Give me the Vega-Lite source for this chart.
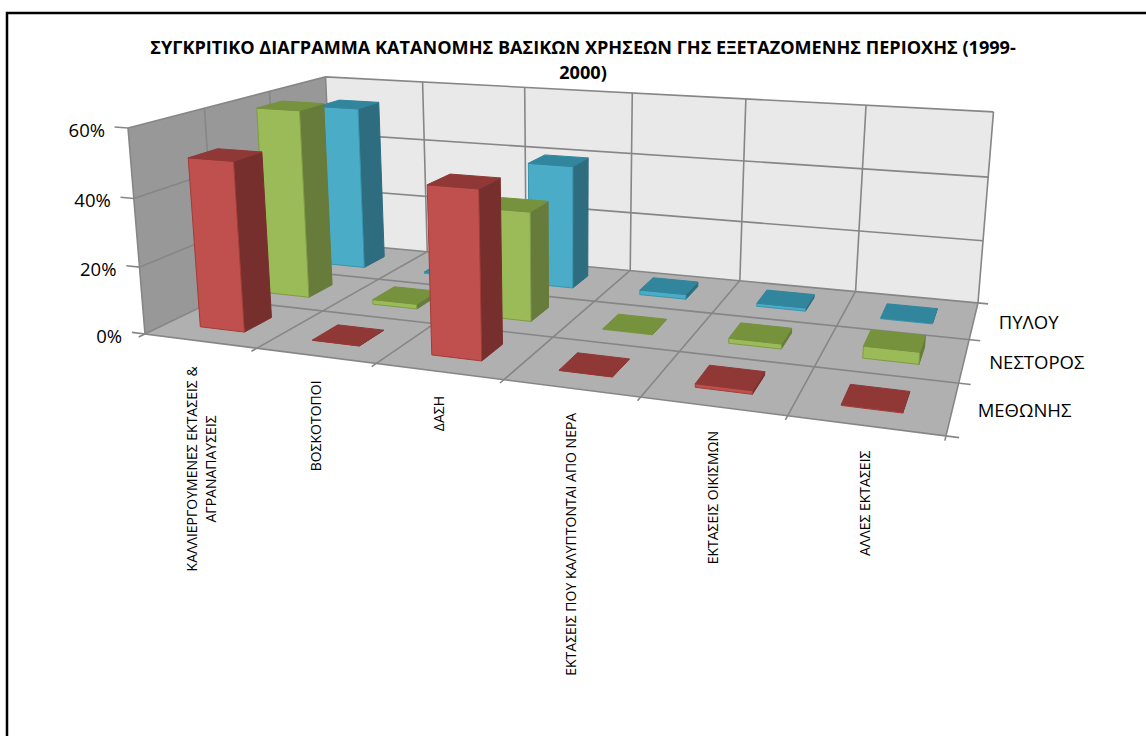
{
"$schema":"https://vega.github.io/schema/vega-lite/v6.json",
"width":1150,"height":730,
"autosize":{"type":"none"},
"padding":{"left":7,"top":13,"right":-11,"bottom":-7},
"background":"white",
"config":{"view":{"stroke":"#000000","strokeWidth":2.5,"fill":"white"}},
"title":{"text":["ΣΥΓΚΡΙΤΙΚΟ ΔΙΑΓΡΑΜΜΑ ΚΑΤΑΝΟΜΗΣ ΒΑΣΙΚΩΝ ΧΡΗΣΕΩΝ ΓΗΣ ΕΞΕΤΑΖΟΜΕΝΗΣ ΠΕΡΙΟΧΗΣ (1999-","2000)"],"font":"Open Sans","fontSize":18.1,"fontWeight":"bold","color":"#000000","anchor":"middle","dx":1,"offset":-70,"lineHeight":25,"baseline":"top"},
"resolve":{"scale":{"fill":"independent","stroke":"independent"}},
"datasets":{
"bars":[
{"category":"ΚΑΛΛΙΕΡΓΟΥΜΕΝΕΣ ΕΚΤΑΣΕΙΣ & ΑΓΡΑΝΑΠΑΥΣΕΙΣ","series":"ΠΥΛΟΥ","value":54},
{"category":"ΒΟΣΚΟΤΟΠΟΙ","series":"ΠΥΛΟΥ","value":0.5},
{"category":"ΔΑΣΗ","series":"ΠΥΛΟΥ","value":39.8},
{"category":"ΕΚΤΑΣΕΙΣ ΠΟΥ ΚΑΛΥΠΤΟΝΤΑΙ ΑΠΟ ΝΕΡΑ","series":"ΠΥΛΟΥ","value":1.5},
{"category":"ΕΚΤΑΣΕΙΣ ΟΙΚΙΣΜΩΝ","series":"ΠΥΛΟΥ","value":1},
{"category":"ΑΛΛΕΣ ΕΚΤΑΣΕΙΣ","series":"ΠΥΛΟΥ","value":0.3},
{"category":"ΚΑΛΛΙΕΡΓΟΥΜΕΝΕΣ ΕΚΤΑΣΕΙΣ & ΑΓΡΑΝΑΠΑΥΣΕΙΣ","series":"ΝΕΣΤΟΡΟΣ","value":59},
{"category":"ΒΟΣΚΟΤΟΠΟΙ","series":"ΝΕΣΤΟΡΟΣ","value":1.5},
{"category":"ΔΑΣΗ","series":"ΝΕΣΤΟΡΟΣ","value":33.4},
{"category":"ΕΚΤΑΣΕΙΣ ΠΟΥ ΚΑΛΥΠΤΟΝΤΑΙ ΑΠΟ ΝΕΡΑ","series":"ΝΕΣΤΟΡΟΣ","value":0.2},
{"category":"ΕΚΤΑΣΕΙΣ ΟΙΚΙΣΜΩΝ","series":"ΝΕΣΤΟΡΟΣ","value":1.5},
{"category":"ΑΛΛΕΣ ΕΚΤΑΣΕΙΣ","series":"ΝΕΣΤΟΡΟΣ","value":3.5},
{"category":"ΚΑΛΛΙΕΡΓΟΥΜΕΝΕΣ ΕΚΤΑΣΕΙΣ & ΑΓΡΑΝΑΠΑΥΣΕΙΣ","series":"ΜΕΘΩΝΗΣ","value":50.3},
{"category":"ΒΟΣΚΟΤΟΠΟΙ","series":"ΜΕΘΩΝΗΣ","value":0.1},
{"category":"ΔΑΣΗ","series":"ΜΕΘΩΝΗΣ","value":48},
{"category":"ΕΚΤΑΣΕΙΣ ΠΟΥ ΚΑΛΥΠΤΟΝΤΑΙ ΑΠΟ ΝΕΡΑ","series":"ΜΕΘΩΝΗΣ","value":0.1},
{"category":"ΕΚΤΑΣΕΙΣ ΟΙΚΙΣΜΩΝ","series":"ΜΕΘΩΝΗΣ","value":1},
{"category":"ΑΛΛΕΣ ΕΚΤΑΣΕΙΣ","series":"ΜΕΘΩΝΗΣ","value":0.3}
],
"walls":[
{"part":"left","i":0,"c":0,"s":0,"v":0},{"part":"left","i":1,"c":0,"s":3,"v":0},{"part":"left","i":2,"c":0,"s":3,"v":60},{"part":"left","i":3,"c":0,"s":0,"v":60},
{"part":"back","i":0,"c":0,"s":3,"v":0},{"part":"back","i":1,"c":6,"s":3,"v":0},{"part":"back","i":2,"c":6,"s":3,"v":60},{"part":"back","i":3,"c":0,"s":3,"v":60},
{"part":"floor","i":0,"c":0,"s":0,"v":0},{"part":"floor","i":1,"c":6,"s":0,"v":0},{"part":"floor","i":2,"c":6,"s":3,"v":0},{"part":"floor","i":3,"c":0,"s":3,"v":0}
],
"grid":[
{"g":"c0","i":0,"c":0,"s":-0.08,"v":0},{"g":"c0","i":1,"c":0,"s":3,"v":0},{"g":"c0","i":2,"c":0,"s":3,"v":60},
{"g":"c1","i":0,"c":1,"s":-0.08,"v":0},{"g":"c1","i":1,"c":1,"s":3,"v":0},{"g":"c1","i":2,"c":1,"s":3,"v":60},
{"g":"c2","i":0,"c":2,"s":-0.08,"v":0},{"g":"c2","i":1,"c":2,"s":3,"v":0},{"g":"c2","i":2,"c":2,"s":3,"v":60},
{"g":"c3","i":0,"c":3,"s":-0.08,"v":0},{"g":"c3","i":1,"c":3,"s":3,"v":0},{"g":"c3","i":2,"c":3,"s":3,"v":60},
{"g":"c4","i":0,"c":4,"s":-0.08,"v":0},{"g":"c4","i":1,"c":4,"s":3,"v":0},{"g":"c4","i":2,"c":4,"s":3,"v":60},
{"g":"c5","i":0,"c":5,"s":-0.08,"v":0},{"g":"c5","i":1,"c":5,"s":3,"v":0},{"g":"c5","i":2,"c":5,"s":3,"v":60},
{"g":"c6","i":0,"c":6,"s":-0.08,"v":0},{"g":"c6","i":1,"c":6,"s":3,"v":0},{"g":"c6","i":2,"c":6,"s":3,"v":60},
{"g":"s0","i":0,"c":6.08,"s":0,"v":0},{"g":"s0","i":1,"c":0,"s":0,"v":0},{"g":"s0","i":2,"c":0,"s":0,"v":60},
{"g":"s1","i":0,"c":6.08,"s":1,"v":0},{"g":"s1","i":1,"c":0,"s":1,"v":0},{"g":"s1","i":2,"c":0,"s":1,"v":60},
{"g":"s2","i":0,"c":6.08,"s":2,"v":0},{"g":"s2","i":1,"c":0,"s":2,"v":0},{"g":"s2","i":2,"c":0,"s":2,"v":60},
{"g":"s3","i":0,"c":6.08,"s":3,"v":0},{"g":"s3","i":1,"c":0,"s":3,"v":0},
{"g":"v0","i":0,"c":-0.12,"s":0,"v":0},{"g":"v0","i":1,"c":0,"s":0,"v":0},
{"g":"v20","i":0,"c":-0.12,"s":0,"v":20},{"g":"v20","i":1,"c":0,"s":0,"v":20},{"g":"v20","i":2,"c":0,"s":3,"v":20},{"g":"v20","i":3,"c":6,"s":3,"v":20},
{"g":"v40","i":0,"c":-0.12,"s":0,"v":40},{"g":"v40","i":1,"c":0,"s":0,"v":40},{"g":"v40","i":2,"c":0,"s":3,"v":40},{"g":"v40","i":3,"c":6,"s":3,"v":40},
{"g":"v60","i":0,"c":-0.12,"s":0,"v":60},{"g":"v60","i":1,"c":0,"s":0,"v":60},{"g":"v60","i":2,"c":0,"s":3,"v":60},{"g":"v60","i":3,"c":6,"s":3,"v":60}
],
"valueLabels":[{"label":"60%","v":60},{"label":"40%","v":40},{"label":"20%","v":20},{"label":"0%","v":0}],
"seriesLabels":[{"label":"ΜΕΘΩΝΗΣ","s":0.5},{"label":"ΝΕΣΤΟΡΟΣ","s":1.5},{"label":"ΠΥΛΟΥ","s":2.5}],
"catLabels":[{"label":"ΒΟΣΚΟΤΟΠΟΙ","c":1.5},{"label":"ΔΑΣΗ","c":2.5},{"label":"ΕΚΤΑΣΕΙΣ ΠΟΥ ΚΑΛΥΠΤΟΝΤΑΙ ΑΠΟ ΝΕΡΑ","c":3.5},{"label":"ΕΚΤΑΣΕΙΣ ΟΙΚΙΣΜΩΝ","c":4.5},{"label":"ΑΛΛΕΣ ΕΚΤΑΣΕΙΣ","c":5.5}],
"catLabels2":[{"label":"ΚΑΛΛΙΕΡΓΟΥΜΕΝΕΣ ΕΚΤΑΣΕΙΣ &\nΑΓΡΑΝΑΠΑΥΣΕΙΣ","c":0.5}]
},
"encoding":{
"x":{"field":"px","type":"quantitative","scale":{"domain":[7,1157],"nice":false,"zero":false},"axis":null},
"y":{"field":"py","type":"quantitative","scale":{"domain":[743,13],"nice":false,"zero":false},"axis":null}
},
"layer":[
{"data":{"name":"walls"},
"transform":[
{"calculate":"1-0.2022*datum.c/6+0.2519*datum.s/3-0.0384*datum.v/60","as":"w"},
{"calculate":"(609.7*datum.c/6+14*datum.c/6*(1-datum.c/6)+271.9*datum.s/3+145-21.9*datum.v/60)/datum.w","as":"px"},
{"calculate":"(13.8*datum.c/6-29.8*datum.s/3+334-210.9*datum.v/60+6*datum.c/6*datum.v/60)/datum.w","as":"py"}],
"mark":{"type":"line","strokeWidth":0,"interpolate":"linear"},
"encoding":{"order":{"field":"i"},"fill":{"field":"part","type":"nominal","legend":null,"scale":{"domain":["left","back","floor"],"range":["#989898","#e9e9e9","#b0b0b0"]}}}},
{"data":{"name":"grid"},
"transform":[
{"calculate":"1-0.2022*datum.c/6+0.2519*datum.s/3-0.0384*datum.v/60","as":"w"},
{"calculate":"(609.7*datum.c/6+14*datum.c/6*(1-datum.c/6)+271.9*datum.s/3+145-21.9*datum.v/60)/datum.w","as":"px"},
{"calculate":"(13.8*datum.c/6-29.8*datum.s/3+334-210.9*datum.v/60+6*datum.c/6*datum.v/60)/datum.w","as":"py"}],
"mark":{"type":"line","color":"#868686","strokeWidth":1.6},
"encoding":{"order":{"field":"i"},"detail":{"field":"g"}}},
{"data":{"name":"bars"},
"transform":[
{"calculate":"indexof(['ΚΑΛΛΙΕΡΓΟΥΜΕΝΕΣ ΕΚΤΑΣΕΙΣ & ΑΓΡΑΝΑΠΑΥΣΕΙΣ','ΒΟΣΚΟΤΟΠΟΙ','ΔΑΣΗ','ΕΚΤΑΣΕΙΣ ΠΟΥ ΚΑΛΥΠΤΟΝΤΑΙ ΑΠΟ ΝΕΡΑ','ΕΚΤΑΣΕΙΣ ΟΙΚΙΣΜΩΝ','ΑΛΛΕΣ ΕΚΤΑΣΕΙΣ'],datum.category)","as":"ci"},
{"calculate":"indexof(['ΜΕΘΩΝΗΣ','ΝΕΣΤΟΡΟΣ','ΠΥΛΟΥ'],datum.series)","as":"si"},
{"calculate":"[['right',1,0,0,0],['right',1,1,0,1],['right',1,1,1,2],['right',1,0,1,3],['right',1,0,0,4],['front',0,0,0,0],['front',1,0,0,1],['front',1,0,1,2],['front',0,0,1,3],['front',0,0,0,4],['top',0,0,1,0],['top',1,0,1,1],['top',1,1,1,2],['top',0,1,1,3],['top',0,0,1,4]]","as":"k"},
{"flatten":["k"]},
{"calculate":"datum.k[0]","as":"face"},
{"calculate":"datum.k[4]","as":"i"},
{"calculate":"datum.series+'|'+datum.face","as":"shade"},
{"calculate":"datum.category+'|'+datum.series+'|'+datum.face","as":"poly"},
{"calculate":"datum.ci+0.3+0.4*datum.k[1]","as":"c"},
{"calculate":"datum.si+0.3+0.4*datum.k[2]","as":"s"},
{"calculate":"datum.value*datum.k[3]","as":"v"},
{"calculate":"1-0.2022*datum.c/6+0.2519*datum.s/3-0.0384*datum.v/60","as":"w"},
{"calculate":"(609.7*datum.c/6+14*datum.c/6*(1-datum.c/6)+271.9*datum.s/3+145-21.9*datum.v/60)/datum.w","as":"px"},
{"calculate":"(13.8*datum.c/6-29.8*datum.s/3+334-210.9*datum.v/60+6*datum.c/6*datum.v/60)/datum.w","as":"py"}],
"mark":{"type":"line","strokeWidth":1,"strokeJoin":"round"},
"encoding":{"order":{"field":"i"},"detail":{"field":"poly"},
"fill":{"field":"shade","type":"nominal","legend":null,"scale":{"domain":["ΜΕΘΩΝΗΣ|front","ΜΕΘΩΝΗΣ|right","ΜΕΘΩΝΗΣ|top","ΝΕΣΤΟΡΟΣ|front","ΝΕΣΤΟΡΟΣ|right","ΝΕΣΤΟΡΟΣ|top","ΠΥΛΟΥ|front","ΠΥΛΟΥ|right","ΠΥΛΟΥ|top"],"range":["#c0504d","#772f2d","#8f3836","#9bbb59","#677b3a","#76923c","#4bacc8","#2e6c7f","#31859c"]}},
"stroke":{"field":"shade","type":"nominal","legend":null,"scale":{"domain":["ΜΕΘΩΝΗΣ|front","ΜΕΘΩΝΗΣ|right","ΜΕΘΩΝΗΣ|top","ΝΕΣΤΟΡΟΣ|front","ΝΕΣΤΟΡΟΣ|right","ΝΕΣΤΟΡΟΣ|top","ΠΥΛΟΥ|front","ΠΥΛΟΥ|right","ΠΥΛΟΥ|top"],"range":["#a23c39","#772f2d","#8f3836","#7f9c44","#677b3a","#76923c","#3795ae","#2e6c7f","#31859c"]}}}},
{"data":{"name":"valueLabels"},
"transform":[
{"calculate":"1-0.0384*datum.v/60","as":"w"},
{"calculate":"(145-21.9*datum.v/60)/datum.w","as":"px"},
{"calculate":"(334-210.9*datum.v/60)/datum.w","as":"py"}],
"mark":{"type":"text","font":"Open Sans","fontSize":18.5,"align":"right","baseline":"middle","dx":-23,"dy":3,"color":"#000000"},
"encoding":{"text":{"field":"label"}}},
{"data":{"name":"seriesLabels"},
"transform":[
{"calculate":"1-0.2022+0.2519*datum.s/3","as":"w"},
{"calculate":"(609.7+271.9*datum.s/3+145)/datum.w","as":"px"},
{"calculate":"(13.8-29.8*datum.s/3+334)/datum.w","as":"py"}],
"mark":{"type":"text","font":"Open Sans","fontSize":18.5,"align":"left","baseline":"middle","dx":25,"dy":3,"color":"#000000"},
"encoding":{"text":{"field":"label"}}},
{"data":{"name":"catLabels"},
"transform":[
{"calculate":"1-0.2022*datum.c/6","as":"w"},
{"calculate":"(609.7*datum.c/6+14*datum.c/6*(1-datum.c/6)+145)/datum.w","as":"px"},
{"calculate":"(13.8*datum.c/6+334)/datum.w","as":"py"}],
"mark":{"type":"text","font":"Open Sans","fontSize":14,"align":"right","baseline":"middle","angle":270,"dx":-25,"dy":1,"color":"#000000"},
"encoding":{"text":{"field":"label"}}},
{"data":{"name":"catLabels2"},
"transform":[
{"calculate":"1-0.2022*datum.c/6","as":"w"},
{"calculate":"(609.7*datum.c/6+14*datum.c/6*(1-datum.c/6)+145)/datum.w","as":"px"},
{"calculate":"(13.8*datum.c/6+334)/datum.w","as":"py"}],
"mark":{"type":"text","font":"Open Sans","fontSize":14,"align":"center","baseline":"middle","angle":270,"dx":-128,"dy":-7,"lineBreak":"\n","lineHeight":19,"color":"#000000"},
"encoding":{"text":{"field":"label"}}}
]
}
